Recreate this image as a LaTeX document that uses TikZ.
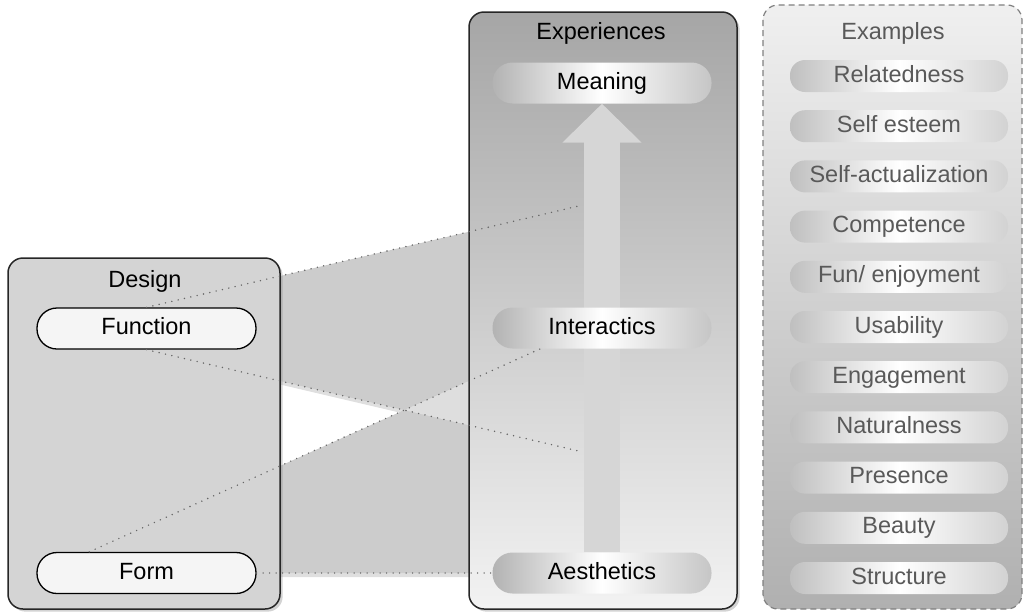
\documentclass[tikz,border=0pt]{standalone}
\usepackage{fontspec}
\setmainfont{Liberation Sans}
\usetikzlibrary{arrows.meta,shadows,calc}

\definecolor{designgray}{gray}{0.83}
\definecolor{pillwhite}{gray}{0.96}
\definecolor{bandgray}{gray}{0.80}
\definecolor{bandlight}{gray}{0.87}
\definecolor{arrowgray}{gray}{0.84}

\pgfdeclarelayer{bands}
\pgfdeclarelayer{boxes}
\pgfdeclarelayer{arrow}
\pgfsetlayers{bands,boxes,arrow,main}

\tikzset{
  pill/.style={rounded corners=20pt, minimum width=219pt, minimum height=41pt,
    inner sep=0pt, text height=16.5pt, text depth=4.5pt},
  designpill/.style={pill, draw=black, line width=1.3pt, fill=pillwhite},
  exppill/.style={pill, left color=gray!60, right color=gray!45, middle color=white},
  examplepill/.style={pill, minimum width=218pt, minimum height=32pt, rounded corners=15pt,
    left color=gray!50, right color=gray!35, middle color=white, text=black!65},
  boxline/.style={draw=black!85, line width=1.5pt, rounded corners=15pt},
  dots/.style={draw=black!60, line width=1.6pt, line cap=round, dash pattern=on 0pt off 6.5pt},
  uparrow/.style={draw=arrowgray, line width=36pt, -{Triangle[width=77pt,length=39pt]}},
}

\begin{document}
\begin{tikzpicture}[x=1pt, y=-1pt, font=\fontsize{23.5}{28}\selectfont]

    \useasboundingbox (0,0) rectangle (1028,614);

    \node (design) at (145,281) {Design};
    \node[designpill] (fn) at (146.5,328.5) {Function};
    \node[designpill] (fm) at (146.5,573) {Form};

    \node (exper) at (601,33) {Experiences};
    \node[exppill] (mean) at (602,83) {Meaning};
    \node[exppill] (inter) at (602,328) {Interactics};
    \node[exppill] (aes) at (602,573) {Aesthetics};

    \node[text=black!65] (examples) at (893,33) {Examples};
    \foreach \ex [count=\i] in {Relatedness, Self esteem, Self-actualization, Competence,
        Fun/ enjoyment, Usability, Engagement, Naturalness, Presence, Beauty, Structure}
      \node[examplepill] (ex\i) at (899,25.8+50.2*\i) {\ex};

    \coordinate (fmtop) at ($(fm.north west)!0.24!(fm.north east)$);
    \coordinate (toptarget) at (583,205);
    \coordinate (midtarget) at (583,452);
    \coordinate (intertarget) at ($(inter.south west)!0.22!(inter.south east)$);

    \draw[dots] (fn.north) -- (toptarget);
    \draw[dots] (fn.south) -- (midtarget);
    \draw[dots] (fmtop) -- (intertarget);
    \draw[dots] (fm.east) -- (aes.west);

    \begin{pgfonlayer}{arrow}
      \draw[uparrow] (aes.north) -- (mean.south);
    \end{pgfonlayer}

    \begin{pgfonlayer}{boxes}
      \draw[boxline, fill=designgray, drop shadow={opacity=0.35}] (8,258) rectangle (280,609);
      \draw[boxline, top color=gray!70, bottom color=gray!10, drop shadow={opacity=0.35}]
        (469,12) rectangle (737,609);
      \draw[draw=black!50, line width=1.2pt, dash pattern=on 6pt off 4pt, rounded corners=15pt,
        top color=gray!12, bottom color=gray!62] (763,5) rectangle (1022,609);
    \end{pgfonlayer}

    \begin{pgfonlayer}{bands}
      \fill[bandgray, drop shadow={opacity=0.25, shadow xshift=2pt, shadow yshift=-4pt}]
        (fn.north) -- (toptarget) -- (midtarget) -- (fn.south) -- cycle;
      \fill[bandgray, drop shadow={opacity=0.25, shadow xshift=2pt, shadow yshift=-4pt}]
        (fmtop) -- (intertarget) -- (aes.west) -- (fm.east) -- cycle;
      \begin{scope}
        \clip (fn.north) -- (toptarget) -- (midtarget) -- (fn.south) -- cycle;
        \fill[bandlight] (fmtop) -- (intertarget) -- (aes.west) -- (fm.east) -- cycle;
      \end{scope}
    \end{pgfonlayer}

  \end{tikzpicture}
\end{document}
